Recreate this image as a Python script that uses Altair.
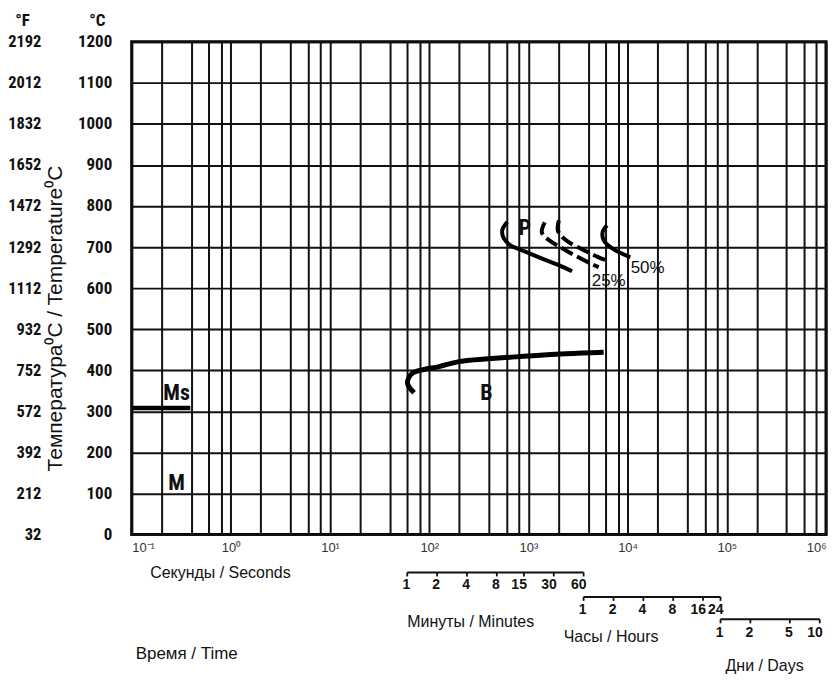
import json
import altair as alt
import pandas as pd

# ---------------- data ----------------
C_TICKS = [0, 100, 200, 300, 400, 500, 600, 700, 800, 900, 1000, 1100, 1200]
F_LABELS = ["32", "212", "392", "572", "752", "932", "1112", "1292", "1472",
            "1652", "1832", "2012", "2192"]

GRID_T = [0.1, 0.2, 0.4, 0.6, 0.8,
          1, 2, 4, 6, 8,
          10, 20, 40, 60, 80,
          100, 200, 400, 600, 800,
          1000, 2000, 4000, 6000, 8000,
          10000, 20000, 40000, 60000, 80000,
          100000, 200000, 400000, 600000, 800000,
          1000000]
DECADES = [0.1, 1, 10, 100, 1000, 10000, 100000, 1000000]
DECADE_LABELS = ["10⁻¹", "10⁰", "10¹", "10²", "10³", "10⁴", "10⁵", "10⁶"]

# curves: time (s) and temperature (°C)
MS_T = [0.1, 0.39]
MS_C = [308, 308]

B_T = [70.3, 60.3, 67.7, 85.3, 125.6, 199.5, 681, 2377, 5730]
B_C = [345, 369, 393, 401, 409, 421, 432, 440, 444]

PS_T = [611, 544, 565, 660, 865, 1375, 2023, 2754]
PS_C = [761, 741, 721, 704, 692, 672, 656, 641]

D1_T = [1462, 1364, 1604, 2023, 2672, 4150, 5108]
D1_C = [760, 736, 717, 702, 685, 661, 651]
D2_T = [2023, 1977, 2168, 2547, 3443, 5108, 6010]
D2_C = [765, 741, 726, 712, 695, 675, 668]

P50_T = [6194, 5600, 5737, 6700, 8445, 10640]
P50_C = [753, 737, 717, 700, 686, 675]

REGION_LABELS = ["Ms", "M", "B", "P"]
REGION_T = [0.284, 0.284, 377, 920]
REGION_C = [345, 125, 345, 747]

PCT_LABELS = ["25%", "50%"]
PCT_T = [6440, 15890]
PCT_C = [617, 649]

# secondary time rulers
MIN_TICKS = [1, 2, 4, 8, 15, 30, 60]
HOUR_TICKS = [1, 2, 4, 8, 16, 24]
DAY_TICKS = [1, 2, 5, 10]
SEC_PER_MIN = 60
SEC_PER_HOUR = 3600
SEC_PER_DAY = 86400

# ---------------- styling ----------------
COND = "Roboto Condensed, Liberation Sans, Arial, sans-serif"
SANS = "Liberation Sans, Arial, Helvetica, sans-serif"
INK = "#111111"

XS = alt.Scale(type="log", domain=[0.1, 1000000], nice=False)
YS = alt.Scale(domain=[0, 1200], nice=False, zero=True)

dec_js = json.dumps(DECADES)
lab_js = json.dumps(DECADE_LABELS, ensure_ascii=False)
XAXIS = alt.Axis(
    values=GRID_T, grid=True, gridColor=INK, gridWidth=2, gridOpacity=1,
    ticks=False, domain=False,
    labelExpr=f"indexof({dec_js}, datum.value) >= 0 ? {lab_js}[indexof({dec_js}, datum.value)] : ''",
    labelOverlap=False, labelFlush=True, labelFont=SANS, labelFontSize=13,
    labelColor="#333333", labelPadding=7,
    title="Секунды / Seconds", titleFont=SANS, titleFontSize=16,
    titleFontWeight="normal", titleColor=INK, titleAnchor="start", titleAlign="left",
    titleX=18, titleY=43, titleBaseline="alphabetic",
)

C_AXIS = alt.Axis(
    orient="left", values=C_TICKS, format="d", grid=True, gridColor=INK, gridWidth=2,
    gridOpacity=1, ticks=False, tickSize=0, domain=False,
    labelFont=COND, labelFontWeight="bold", labelFontSize=17, labelColor=INK,
    labelPadding=20, labelBaseline="middle",
    title="Температура⁰C / Temperature⁰C", titleFont=SANS, titleFontSize=21,
    titleFontWeight="normal", titleColor=INK, titleAngle=270,
    titleX=-76, titleY=277, titleAlign="center", titleBaseline="middle",
)

f_js = json.dumps(F_LABELS)
F_AXIS = alt.Axis(
    orient="left", offset=87, values=C_TICKS, grid=False, ticks=False, tickSize=0,
    domain=False, labelExpr=f"{f_js}[round(datum.value / 100)]",
    labelFont=COND, labelFontWeight="bold", labelFontSize=16.5, labelColor=INK,
    labelPadding=4, labelBaseline="middle",
    title="°F", titleFont=COND, titleFontWeight="bold", titleFontSize=17, titleColor=INK,
    titleAngle=0, titleX=-23, titleY=-16, titleAlign="center", titleBaseline="alphabetic",
)

CHEAD_AXIS = alt.Axis(
    orient="left", values=C_TICKS, grid=False, ticks=False, domain=False, labels=False,
    title="°C", titleFont=COND, titleFontWeight="bold", titleFontSize=17, titleColor=INK,
    titleAngle=0, titleX=-35, titleY=-16, titleAlign="center", titleBaseline="alphabetic",
)


def xenc(field="t"):
    return alt.X(f"{field}:Q", scale=XS, axis=XAXIS)


def curve_df(ts, cs):
    return pd.DataFrame({"t": ts, "T": cs, "i": list(range(len(ts)))})


def curve(ts, cs, axis=None, width=4, dash=None):
    kw = dict(color="black", strokeWidth=width, interpolate="catmull-rom", strokeCap="butt")
    if dash is not None:
        kw["strokeDash"] = dash
    return alt.Chart(curve_df(ts, cs)).mark_line(**kw).encode(
        x=xenc(),
        y=alt.Y("T:Q", scale=YS, axis=axis),
        order="i:Q",
    )


layers = []
layers.append(curve(B_T, B_C, axis=C_AXIS, width=5))
layers.append(curve(MS_T, MS_C, axis=F_AXIS, width=4.5))
layers.append(curve(PS_T, PS_C, axis=CHEAD_AXIS, width=4))
layers.append(curve(P50_T, P50_C, width=4))
layers.append(curve(D1_T, D1_C, width=4, dash=[13, 5]))
layers.append(curve(D2_T, D2_C, width=4, dash=[13, 5]))

region_df = pd.DataFrame({"t": REGION_T, "T": REGION_C, "label": REGION_LABELS})
layers.append(
    alt.Chart(region_df).mark_text(font=COND, fontWeight="bold", fontSize=22, color=INK,
                                   align="center", baseline="middle").encode(
        x=xenc(), y=alt.Y("T:Q", scale=YS, axis=None), text="label:N")
)
pct_df = pd.DataFrame({"t": PCT_T, "T": PCT_C, "label": PCT_LABELS})
layers.append(
    alt.Chart(pct_df).mark_text(font=SANS, fontSize=17, color=INK,
                                align="center", baseline="middle").encode(
        x=xenc(), y=alt.Y("T:Q", scale=YS, axis=None), text="label:N")
)

# rulers: (ticks, unit, line y px, number baseline px, name, name dx, name baseline px)
RULERS = [
    (MIN_TICKS, SEC_PER_MIN, 532, 549, "Минуты / Minutes", 0, 587),
    (HOUR_TICKS, SEC_PER_HOUR, 556.5, 574, "Часы / Hours", -20, 602),
    (DAY_TICKS, SEC_PER_DAY, 579, 597, "Дни / Days", 5, 631),
]
for ticks, unit, ly, ny, name, ndx, nby in RULERS:
    secs = [v * unit for v in ticks]
    tdf = pd.DataFrame({"t": secs, "label": [str(v) for v in ticks]})
    span = pd.DataFrame({"t": [secs[0]], "t2": [secs[-1]]})
    layers.append(
        alt.Chart(span).mark_rule(color=INK, strokeWidth=2).encode(
            x=xenc(), x2="t2:Q", y=alt.value(ly))
    )
    layers.append(
        alt.Chart(tdf).mark_rule(color=INK, strokeWidth=1.8).encode(
            x=xenc(), y=alt.value(ly), y2=alt.value(ly + 4))
    )
    layers.append(
        alt.Chart(tdf).mark_text(font=SANS, fontWeight="bold", fontSize=14, color=INK,
                                 align="right", dx=3, baseline="alphabetic").encode(
            x=xenc(), y=alt.value(ny), text="label:N")
    )
    layers.append(
        alt.Chart(tdf.head(1)).mark_text(text=name, font=SANS, fontSize=16, color=INK,
                                         align="left", dx=ndx, baseline="alphabetic").encode(
            x=xenc(), y=alt.value(nby))
    )

time_df = pd.DataFrame({"label": ["Время / Time"]})
layers.append(
    alt.Chart(time_df).mark_text(font=SANS, fontSize=17, color=INK, align="left",
                                 baseline="alphabetic").encode(
        x=alt.value(4), y=alt.value(619), text="label:N")
)

chart = (
    alt.layer(*layers)
    .resolve_scale(y="shared")
    .resolve_axis(y="independent")
    .properties(
        width=696, height=494,
        autosize=alt.AutoSizeParams(type="none"),
        padding={"left": 124, "top": 33, "right": 5, "bottom": 139},
        background="white",
    )
    .configure_view(stroke="black", strokeWidth=3)
)

chart.save("out.html", embed_options={"renderer": "svg", "actions": False})
